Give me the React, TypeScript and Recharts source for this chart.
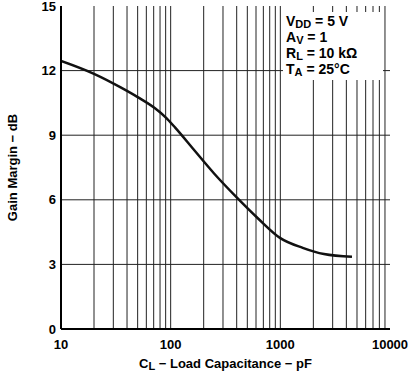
import { LineChart, Line, XAxis, YAxis, ReferenceLine } from 'recharts'

const capacitance = [10, 20, 35, 50, 72, 90, 110, 160, 250, 400, 630, 1000, 1600, 2500, 4500]
const gainMargin = [12.45, 11.85, 11.22, 10.77, 10.25, 9.83, 9.35, 8.37, 7.21, 6.11, 5.12, 4.22, 3.77, 3.48, 3.35]

const xTicks = [10, 100, 1000, 10000]
const yTicks = [0, 3, 6, 9, 12, 15]
const xGrid = [20, 30, 40, 50, 60, 70, 80, 90, 100, 200, 300, 400, 500, 600, 700, 800, 900, 1000, 2000, 3000, 4000, 5000, 6000, 7000, 8000, 9000]
const yGrid = [3, 6, 9, 12]

const data = capacitance.map((c, i) => ({ c, g: gainMargin[i] }))

const font = '"Liberation Sans", Arial, sans-serif'
const tickStyle = { fill: '#000', fontSize: 13, fontWeight: 700, fontFamily: font }

function XTitle({ viewBox }: any) {
  const cx = viewBox.x + viewBox.width / 2
  return (
    <text x={cx} y={368} textAnchor="middle" fontSize={13} fontWeight={700} fontFamily={font} fill="#000">
      <tspan>C</tspan>
      <tspan dy={2} fontSize={11}>L</tspan>
      <tspan dy={-2}> − Load Capacitance − pF</tspan>
    </text>
  )
}

const sub = { fontSize: 11, position: 'relative' as const, top: 2 }

export default function App() {
  return (
    <div style={{ position: 'absolute', left: 0, top: 0, width: 408, height: 373, background: '#fff' }}>
      <LineChart width={408} height={373} data={data} margin={{ top: 6, right: 18, left: 0, bottom: 0 }}>
        {xGrid.map((v) => (
          <ReferenceLine key={'x' + v} x={v} stroke="#222" strokeWidth={1} ifOverflow="hidden" />
        ))}
        {yGrid.map((v) => (
          <ReferenceLine key={'y' + v} y={v} stroke="#222" strokeWidth={1} />
        ))}
        <XAxis
          dataKey="c"
          type="number"
          scale="log"
          domain={[10, 10000]}
          ticks={xTicks}
          allowDataOverflow
          height={44}
          tickLine={false}
          axisLine={{ stroke: '#000', strokeWidth: 2 }}
          tick={tickStyle}
          tickMargin={5}
          interval={0}
          label={<XTitle />}
        />
        <YAxis
          type="number"
          domain={[0, 15]}
          ticks={yTicks}
          width={61}
          tickLine={false}
          tickSize={0}
          tickMargin={5}
          axisLine={{ stroke: '#000', strokeWidth: 2 }}
          tick={tickStyle}
          interval={0}
          label={{
            value: 'Gain Margin − dB',
            angle: -90,
            position: 'insideLeft',
            offset: 12,
            style: { textAnchor: 'middle', fontSize: 13, fontWeight: 700, fontFamily: font, fill: '#000' },
          }}
        />
        <XAxis xAxisId="top" orientation="top" type="number" scale="log" domain={[10, 10000]} height={0} tick={false} tickLine={false} axisLine={{ stroke: '#000', strokeWidth: 2 }} />
        <YAxis yAxisId="right" orientation="right" domain={[0, 15]} width={0} tick={false} tickLine={false} axisLine={{ stroke: '#000', strokeWidth: 2 }} />
        <Line type="monotone" dataKey="g" stroke="#111" strokeWidth={2.5} dot={false} isAnimationActive={false} />
      </LineChart>
      <div
        style={{
          position: 'absolute',
          left: 283,
          top: 12,
          width: 100,
          height: 68,
          background: '#fff',
          fontFamily: font,
          fontWeight: 700,
          fontSize: 14,
          lineHeight: '15px',
          color: '#000',
          paddingLeft: 3,
          paddingTop: 2,
          boxSizing: 'border-box',
        }}
      >
        <div>V<span style={sub}>DD</span> = 5 V</div>
        <div>A<span style={sub}>V</span> = 1</div>
        <div>R<span style={sub}>L</span> = 10 kΩ</div>
        <div>T<span style={sub}>A</span> = 25°C</div>
      </div>
    </div>
  )
}
